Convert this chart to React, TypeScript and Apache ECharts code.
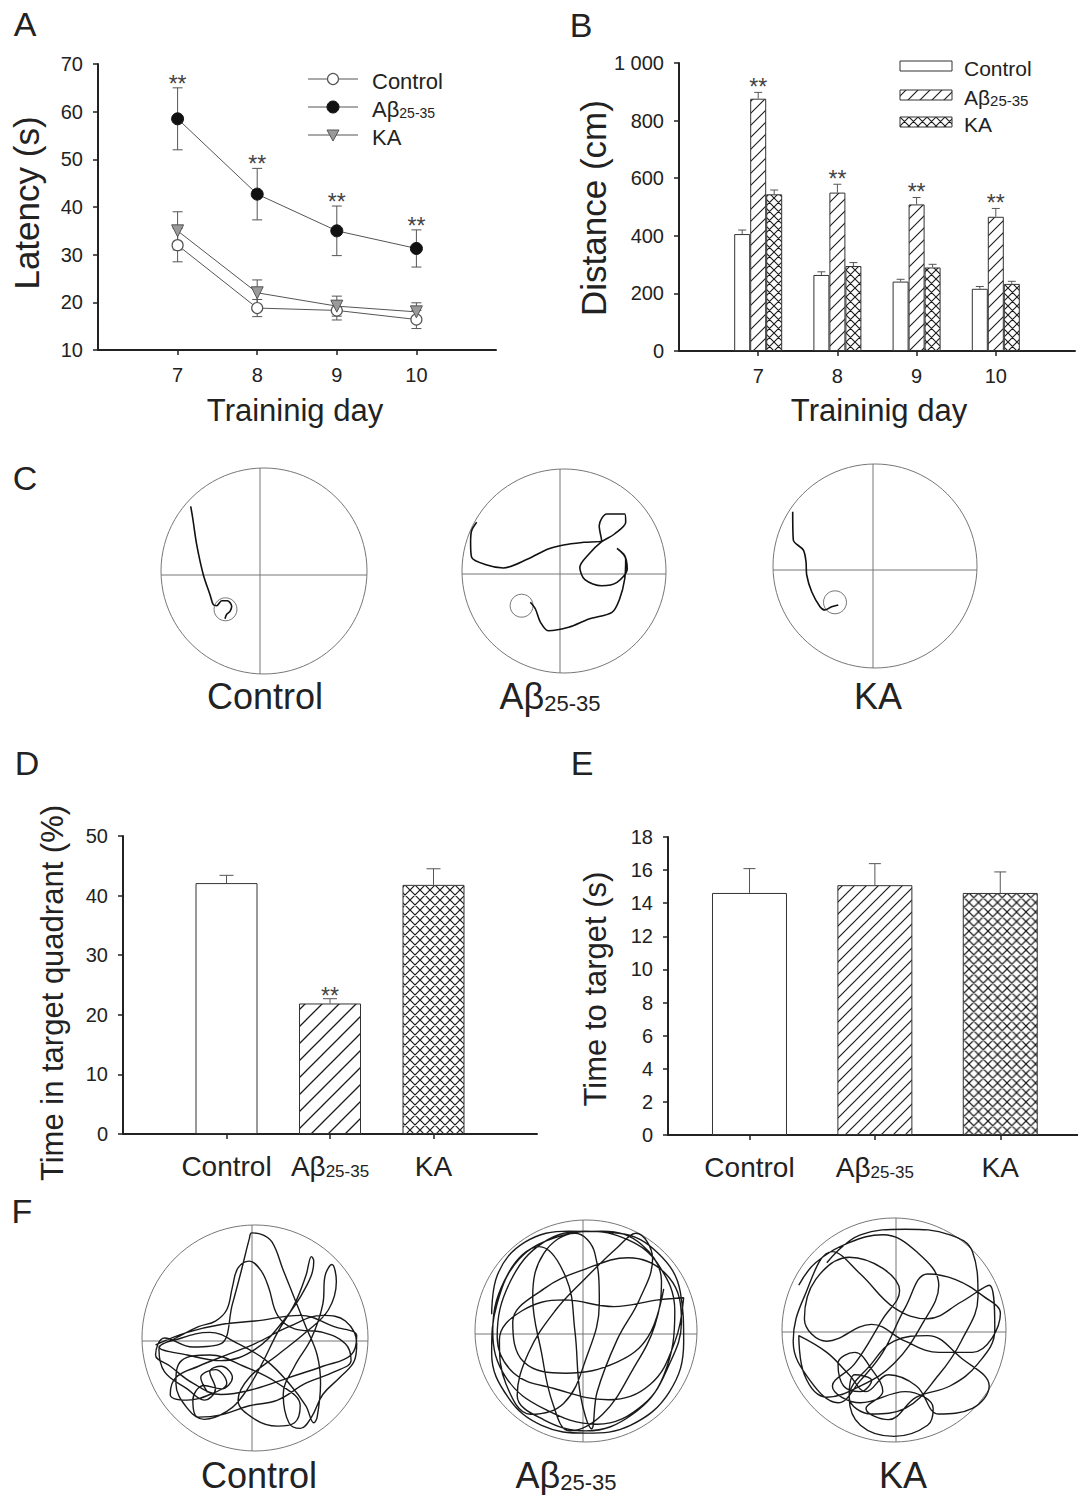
import React, { useEffect, useRef } from 'react';
import * as echarts from 'echarts';

const W = 1078;
const H = 1495;
const FONT = '"Liberation Sans", Arial, Helvetica, sans-serif';
const INK = '#222';

// ---------- Panel A : latency ----------
const dayCategories = ['', '7', '8', '9', '10', ''];
const latencyControl = [32.0, 18.8, 18.3, 16.4];
const latencyControlSem = [3.5, 1.8, 2.0, 1.9];
const latencyAbeta = [58.5, 42.7, 35.0, 31.3];
const latencyAbetaSem = [6.5, 5.4, 5.2, 3.9];
const latencyKA = [35.0, 22.0, 19.2, 18.0];
const latencyKASem = [4.0, 2.7, 2.1, 1.9];
const latencyMarks = ['**', '**', '**', '**'];

// ---------- Panel B : distance ----------
const distanceControl = [406, 264, 241, 216];
const distanceControlSem = [14, 11, 8, 8];
const distanceAbeta = [876, 550, 509, 466];
const distanceAbetaSem = [22, 29, 24, 29];
const distanceKA = [544, 295, 290, 233];
const distanceKASem = [15, 12, 11, 9];
const distanceMarks = ['**', '**', '**', '**'];

// ---------- Panels D / E ----------
const groupNames = ['Control', 'Aβ', 'KA'];
const groupSubs = ['', '25-35', ''];
const quadrantTime = [42.1, 21.9, 41.8];
const quadrantSem = [1.3, 0.8, 2.7];
const quadrantMarks = ['', '**', ''];
const groupPositions = [1, 2, 3];
const targetTime = [14.62, 15.09, 14.62];
const targetSem = [1.47, 1.3, 1.27];

// ---------- Panel C : probe-trial swim paths (px offsets from pool centre, y up) ----------
const pathCControl = [[-73.3, 64.7], [-71.3, 53], [-67.3, 26.3], [-60.7, -3.7], [-54, -23.7], [-50.7, -33.7], [-47.3, -34.7], [-42.3, -29.7], [-36.7, -29.7], [-32.3, -35.3], [-34, -40.3], [-37.3, -43.3], [-39, -47.7]];
const platformCControl = [-38.5, -38.3];
const pathCAbeta = [[-87.3, 48.7], [-92.4, 40.3], [-93.4, 28.7], [-92.4, 13.7], [-77.1, 6], [-60.7, 3], [-36.2, 12], [-15.8, 22], [-0.5, 26], [19.9, 28.7], [37.7, 30.3], [35.2, 45.3], [42.8, 57], [60.7, 57], [61.7, 48.7], [50.5, 37], [37.7, 29.3], [25, 17], [15.8, 3.7], [20.9, -8.7], [37.7, -14.7], [53, -11.3], [63.2, 2], [60.7, 15.3], [53, 22.7], [61.7, 12], [60.7, -8], [55.6, -28], [48, -41.3], [25, -48], [4.6, -56.3], [-15.8, -59.7], [-23.5, -51.3], [-28.6, -38], [-33.7, -31.3]];
const platformCAbeta = [-42.4, -34.7];
const pathCKA = [[-82.3, 54.3], [-81.7, 26], [-71.7, 16], [-69, 4.3], [-68.3, -9], [-63.3, -25.7], [-55, -40.7], [-50, -44], [-43.3, -40.7], [-36.7, -39]];
const platformCKA = [-40, -36.3];

// ---------- Panel F : spatial probe swim paths (normalised to pool radius 100) ----------
const pathFControl = [[-88, -6], [-60, 5], [-30, 12], [0, 15], [40, 20], [70, 10], [90, 2], [85, -15], [60, -25], [30, -35], [0, -45], [-30, -50], [-55, -40], [-75, -25], [-88, -15], [-80, 0], [-55, -8], [-30, -5], [-20, 30], [-12, 60], [-5, 88], [-3, 93], [5, 92], [15, 85], [25, 60], [35, 35], [45, 10], [55, -15], [58, -40], [55, -70], [52, -75], [45, -60], [30, -40], [10, -20], [-15, -5], [-40, 5], [-65, 0], [-85, -10], [-80, -30], [-60, -45], [-45, -55], [-35, -45], [-40, -30], [-30, -25], [-20, -35], [-30, -45], [-45, -42], [-55, -55], [-50, -70], [-30, -68], [-5, -60], [20, -55], [45, -40], [70, -30], [85, -20], [80, -5], [60, 5], [35, 8], [20, 20], [12, 45], [5, 60], [-5, 68], [-15, 62], [-20, 45], [-25, 25], [-35, 15], [-50, 10], [-70, 0], [-85, -8], [-60, -15], [-30, -20], [0, -10], [25, 15], [45, 45], [52, 68], [50, 72], [45, 55], [35, 30], [20, 5], [5, -25], [-10, -50], [-25, -65], [-45, -72], [-60, -62], [-70, -40], [-65, -20], [-40, -15], [-10, -25], [20, -40], [40, -60], [35, -75], [20, -78], [0, -72], [-15, -55], [-5, -35], [20, -15], [45, 5], [65, 25], [72, 50], [68, 65], [62, 55], [60, 30], [50, 0], [35, -25], [25, -50], [30, -75], [40, -80], [50, -70], [60, -50], [75, -35], [88, -20], [90, -5], [80, 15], [60, 20], [30, 10], [0, -5], [-25, -15], [-50, -25], [-70, -35], [-75, -50], [-60, -55], [-40, -50], [-25, -40], [-35, -28], [-48, -35], [-42, -48]];
const pathFAbeta = [[-85, 15], [-80, 50], [-55, 80], [-15, 90], [30, 88], [65, 70], [85, 35], [88, -10], [75, -55], [40, -85], [0, -92], [-40, -85], [-70, -60], [-85, -20], [-80, 25], [-60, 65], [-25, 85], [15, 90], [50, 78], [68, 45], [62, 5], [42, -35], [15, -75], [-15, -90], [-30, -65], [-40, -20], [-48, 30], [-38, 70], [-10, 88], [8, 70], [12, 25], [0, -25], [-20, -65], [-50, -75], [-72, -48], [-78, -8], [-58, 18], [-20, 28], [25, 22], [65, 28], [88, 30], [80, -10], [58, -48], [20, -62], [-28, -52], [-65, -38], [-80, -5], [-68, 45], [-38, 80], [0, 90], [38, 82], [65, 60], [80, 18], [70, -40], [42, -75], [0, -90], [-38, -80], [-62, -58], [-52, -20], [-28, 18], [0, 48], [28, 75], [45, 88], [60, 65], [48, 28], [28, -8], [10, -55], [5, -88], [-5, -58], [-10, 0], [-18, 48], [-42, 76], [-70, 52], [-84, 0], [-72, -42], [-38, -70], [10, -84], [52, -66], [76, -28], [86, 8], [75, 48], [38, 66], [0, 56], [-38, 38], [-66, 8], [-56, -28], [-18, -38], [28, -28], [56, -5], [70, 38]];
const pathFKA = [[-60, 60], [-30, 85], [10, 90], [50, 85], [70, 70], [75, 30], [60, -10], [40, -40], [10, -70], [-20, -75], [-40, -60], [-35, -40], [-20, -45], [-30, -55], [-45, -50], [-50, -30], [-35, -20], [-20, -35], [-10, -55], [-25, -70], [-5, -80], [20, -60], [50, -50], [75, -30], [90, 0], [85, 40], [60, 25], [30, 10], [0, 20], [-30, 50], [-55, 70], [-80, 30], [-90, -10], [-75, -45], [-50, -65], [-30, -45], [-10, -20], [10, 20], [30, 50], [55, 45], [80, 30], [95, 15], [70, -20], [40, -20], [10, -10], [-20, 5], [-60, -10], [-80, 10], [-70, 45], [-40, 65], [-10, 55], [5, 35], [-10, 10], [-35, -30], [-55, -50], [-30, -65], [10, -55], [35, -70], [30, -85], [0, -95], [-30, -85], [-40, -60], [-20, -30], [0, -10], [30, -5], [60, -25], [85, -50], [70, -70], [40, -75], [20, -50], [-5, -40], [-25, -55], [-40, -40], [-60, -20], [-85, -5], [-80, -40], [-60, -60], [-30, -50], [0, -30], [25, 5], [40, 40], [20, 70], [-10, 85], [-40, 78], [-70, 60], [-85, 40]];

// ---------- layout ----------
const POOLS_C = [
  { cx: 264, cy: 571, r: 103, vx: 260, hy: 575 },
  { cx: 564, cy: 571, r: 102, vx: 560, hy: 574 },
  { cx: 875, cy: 566, r: 102, vx: 873, hy: 570 },
];
const POOLS_F = [
  { cx: 255, cy: 1338, r: 113, vx: 252, hy: 1341 },
  { cx: 586, cy: 1331, r: 111, vx: 583, hy: 1334 },
  { cx: 894, cy: 1330, r: 112, vx: 896, hy: 1332 },
];

function tile(s: number, cross: boolean, lw: number) {
  const d1 = `M0 ${s} L${s} 0 M${-s} ${s} L${s} ${-s} M0 ${2 * s} L${2 * s} 0`;
  const d2 = `M0 0 L${s} ${s} M0 ${-s} L${2 * s} ${s} M${-s} 0 L${s} ${2 * s}`;
  const svg = `<svg xmlns='http://www.w3.org/2000/svg' width='${s}' height='${s}'><rect width='${s}' height='${s}' fill='#ffffff'/><path d='${d1}${cross ? ' ' + d2 : ''}' stroke='#1a1a1a' stroke-width='${lw}' fill='none'/></svg>`;
  return {
    image: 'data:image/svg+xml;charset=utf-8,' + encodeURIComponent(svg),
    repeat: 'repeat',
    imageWidth: s,
    imageHeight: s,
  } as any;
}

const pts = (vals: number[]) => vals.map((v, i) => [i + 1, v]);

function errSeries(ax: number, vals: number[], sems: number[], offset: number, cap: number, both: boolean) {
  return {
    type: 'custom',
    xAxisIndex: ax,
    yAxisIndex: ax,
    silent: true,
    z: 3,
    data: vals.map((v, i) => [i + 1, v, sems[i]]),
    encode: { x: 0, y: 1 },
    renderItem: (params: any, api: any) => {
      const x = api.value(0);
      const v = api.value(1);
      const e = api.value(2);
      const top = api.coord([x, v + e]);
      const bot = api.coord([x, both ? v - e : v]);
      const cx = top[0] + offset;
      const st = { stroke: '#555', lineWidth: 1 };
      const children: any[] = [
        { type: 'line', shape: { x1: cx, y1: top[1], x2: cx, y2: bot[1] }, style: st },
        { type: 'line', shape: { x1: cx - cap, y1: top[1], x2: cx + cap, y2: top[1] }, style: st },
      ];
      if (both) children.push({ type: 'line', shape: { x1: cx - cap, y1: bot[1], x2: cx + cap, y2: bot[1] }, style: st });
      return { type: 'group', children };
    },
  };
}

function sigSeries(ax: number, vals: number[], sems: number[], marks: string[], gap: number) {
  return {
    type: 'custom',
    xAxisIndex: ax,
    yAxisIndex: ax,
    silent: true,
    z: 5,
    data: vals.map((v, i) => [i + 1, v + sems[i], i]),
    encode: { x: 0, y: 1 },
    renderItem: (params: any, api: any) => {
      const p = api.coord([api.value(0), api.value(1)]);
      const mark = marks[api.value(2)];
      if (!mark) return null;
      return {
        type: 'text',
        x: p[0],
        y: p[1] - gap,
        style: {
          text: mark, fontSize: 23, fontFamily: FONT, fill: '#444',
          align: 'center', verticalAlign: 'middle', textAlign: 'center', textVerticalAlign: 'middle',
        },
      };
    },
  };
}

const richLabel = (i: number) => (groupSubs[i] ? `{m|${groupNames[i]}}{s|${groupSubs[i]}}` : `{m|${groupNames[i]}}`);

function txt(x: number, y: number, text: string, size: number, extra: any = {}, rot = 0, align = 'center') {
  return {
    type: 'text', x, y, rotation: rot, silent: true,
    style: {
      text, fontSize: size, fontFamily: FONT, fill: INK,
      align, verticalAlign: 'middle', textAlign: align, textVerticalAlign: 'middle', ...extra,
    },
  };
}

function buildOption() {
  const hatchB = tile(12, false, 1.1);
  const crossB = tile(9, true, 1.1);
  const hatchD = tile(17, false, 1.3);
  const crossD = tile(10, true, 1.2);
  const hatchE = tile(12, false, 1.2);
  const crossE = tile(9.5, true, 1.2);

  const axisLine = { show: true, lineStyle: { color: INK, width: 2 } };
  const tickOut = { show: true, inside: false, length: 5, lineStyle: { color: INK, width: 1.5 } };
  const yLabel = { fontSize: 20, color: INK, fontFamily: FONT, margin: 15 };

  const pools = [...POOLS_C, ...POOLS_F];
  const grid: any[] = [
    { left: 98, top: 64, width: 398, height: 286 },
    { left: 679, top: 63, width: 400, height: 288 },
    { left: 123, top: 836, width: 414, height: 298 },
    { left: 668, top: 837, width: 410, height: 298 },
    ...pools.map((p) => ({ left: p.cx - p.r, top: p.cy - p.r, width: 2 * p.r, height: 2 * p.r })),
  ];

  const groupRich = {
    m: { fontSize: 28, fontFamily: FONT, color: INK, lineHeight: 32, verticalAlign: 'bottom' },
    s: { fontSize: 17, fontFamily: FONT, color: INK, lineHeight: 20, verticalAlign: 'bottom' },
  };

  const xAxis: any[] = [
    {
      gridIndex: 0, type: 'category', data: dayCategories, boundaryGap: false,
      axisLine, axisTick: { ...tickOut, interval: (i: number) => i > 0 && i < 5 },
      axisLabel: { fontSize: 20, color: INK, fontFamily: FONT, margin: 15, interval: 0 },
    },
    {
      gridIndex: 1, type: 'category', data: dayCategories, boundaryGap: false,
      axisLine, axisTick: { ...tickOut, interval: (i: number) => i > 0 && i < 5 },
      axisLabel: { fontSize: 20, color: INK, fontFamily: FONT, margin: 15, interval: 0 },
    },
    {
      gridIndex: 2, type: 'category', data: ['', ...groupNames, ''], boundaryGap: false,
      axisLine, axisTick: { ...tickOut, interval: (i: number) => i > 0 && i < 4 },
      axisLabel: {
        interval: 0, margin: 14,
        formatter: (v: string) => { const i = groupNames.indexOf(v); return i < 0 ? '' : richLabel(i); },
        rich: groupRich,
      },
    },
    {
      gridIndex: 3, type: 'value', min: 0.35, max: 3.62,
      axisLine, splitLine: { show: false },
      axisTick: { ...tickOut, customValues: groupPositions },
      axisLabel: {
        margin: 14, customValues: groupPositions,
        formatter: (v: number) => { const i = Math.round(v) - 1; return groupNames[i] ? richLabel(i) : ''; },
        rich: groupRich,
      },
    },
    ...pools.map((p, k) => {
      const half = k < 3 ? p.r : 100;
      return { gridIndex: 4 + k, type: 'value', min: -half, max: half, show: false };
    }),
  ];

  const yAxis: any[] = [
    { gridIndex: 0, type: 'value', min: 10, max: 70, interval: 10, axisLine, axisTick: tickOut, splitLine: { show: false }, axisLabel: yLabel },
    {
      gridIndex: 1, type: 'value', min: 0, max: 1000, interval: 200, axisLine, axisTick: tickOut, splitLine: { show: false },
      axisLabel: { ...yLabel, formatter: (v: number) => (v === 1000 ? '1 000' : String(v)) },
    },
    { gridIndex: 2, type: 'value', min: 0, max: 50, interval: 10, axisLine, axisTick: tickOut, splitLine: { show: false }, axisLabel: yLabel },
    { gridIndex: 3, type: 'value', min: 0, max: 18, interval: 2, axisLine, axisTick: tickOut, splitLine: { show: false }, axisLabel: yLabel },
    ...pools.map((p, k) => {
      const half = k < 3 ? p.r : 100;
      return { gridIndex: 4 + k, type: 'value', min: -half, max: half, show: false };
    }),
  ];

  const barBorder = { borderColor: '#333', borderWidth: 1 };
  const series: any[] = [
    // A
    errSeries(0, latencyControl, latencyControlSem, 0, 5, true),
    errSeries(0, latencyKA, latencyKASem, 0, 5, true),
    errSeries(0, latencyAbeta, latencyAbetaSem, 0, 5, true),
    {
      type: 'line', xAxisIndex: 0, yAxisIndex: 0, data: pts(latencyControl), silent: true, z: 4,
      symbol: 'circle', symbolSize: 11, lineStyle: { color: '#555', width: 1 },
      itemStyle: { color: '#fff', borderColor: '#555', borderWidth: 1.2 },
    },
    {
      type: 'line', xAxisIndex: 0, yAxisIndex: 0, data: pts(latencyKA), silent: true, z: 4,
      symbol: 'triangle', symbolRotate: 180, symbolSize: 12, lineStyle: { color: '#555', width: 1 },
      itemStyle: { color: '#9a9a9a', borderColor: '#555', borderWidth: 1 },
    },
    {
      type: 'line', xAxisIndex: 0, yAxisIndex: 0, data: pts(latencyAbeta), silent: true, z: 4,
      symbol: 'circle', symbolSize: 12, lineStyle: { color: '#555', width: 1 },
      itemStyle: { color: '#111', borderColor: '#111', borderWidth: 1 },
    },
    sigSeries(0, latencyAbeta, latencyAbetaSem, latencyMarks, 4),
    // B
    { type: 'bar', xAxisIndex: 1, yAxisIndex: 1, data: pts(distanceControl), barWidth: 16, barGap: '0%', silent: true, itemStyle: { color: '#fff', ...barBorder } },
    { type: 'bar', xAxisIndex: 1, yAxisIndex: 1, data: pts(distanceAbeta), barWidth: 16, barGap: '0%', silent: true, itemStyle: { color: hatchB, ...barBorder } },
    { type: 'bar', xAxisIndex: 1, yAxisIndex: 1, data: pts(distanceKA), barWidth: 16, barGap: '0%', silent: true, itemStyle: { color: crossB, ...barBorder } },
    errSeries(1, distanceControl, distanceControlSem, -16, 4, false),
    errSeries(1, distanceAbeta, distanceAbetaSem, 0, 4, false),
    errSeries(1, distanceKA, distanceKASem, 16, 4, false),
    sigSeries(1, distanceAbeta, distanceAbetaSem, distanceMarks, 5),
    // D
    {
      type: 'bar', xAxisIndex: 2, yAxisIndex: 2, barWidth: 62, silent: true,
      data: quadrantTime.map((v, i) => ({ value: [i + 1, v], itemStyle: { color: ['#fff', hatchD, crossD][i], ...barBorder } })),
    },
    errSeries(2, quadrantTime, quadrantSem, 0, 7, false),
    sigSeries(2, quadrantTime, quadrantSem, quadrantMarks, 3),
    // E
    {
      type: 'bar', xAxisIndex: 3, yAxisIndex: 3, barWidth: 75, silent: true,
      data: targetTime.map((v, i) => ({ value: [groupPositions[i], v], itemStyle: { color: ['#fff', hatchE, crossE][i], ...barBorder } })),
    },
    errSeries(3, targetTime, targetSem, 0, 6, false),
  ];

  const cPaths = [pathCControl, pathCAbeta, pathCKA];
  const cPlatforms = [platformCControl, platformCAbeta, platformCKA];
  cPaths.forEach((path, k) => {
    series.push({
      type: 'line', xAxisIndex: 4 + k, yAxisIndex: 4 + k, data: path, silent: true, z: 4,
      symbol: 'none', smooth: 0.3, lineStyle: { color: '#111', width: 1.6 },
    });
    series.push({
      type: 'scatter', xAxisIndex: 4 + k, yAxisIndex: 4 + k, data: [cPlatforms[k]], silent: true, z: 3,
      symbol: 'circle', symbolSize: 23, itemStyle: { color: 'rgba(0,0,0,0)', borderColor: '#555', borderWidth: 1 },
    });
  });
  [pathFControl, pathFAbeta, pathFKA].forEach((path, k) => {
    series.push({
      type: 'line', xAxisIndex: 7 + k, yAxisIndex: 7 + k, data: path, silent: true, z: 4,
      symbol: 'none', smooth: 0.4, lineStyle: { color: '#1a1a1a', width: 1.4 },
    });
  });

  const graphic: any[] = [];
  // panel letters
  [['A', 25, 24], ['B', 581, 25], ['C', 25, 478], ['D', 27, 763], ['E', 582, 763], ['F', 22, 1211]].forEach(([l, x, y]) => {
    graphic.push(txt(x as number, y as number, l as string, 34));
  });
  // axis titles
  graphic.push(txt(26, 203, 'Latency (s)', 35, {}, Math.PI / 2));
  graphic.push(txt(295, 410, 'Traininig day', 31));
  graphic.push(txt(593, 208, 'Distance (cm)', 35, {}, Math.PI / 2));
  graphic.push(txt(879, 410, 'Traininig day', 31));
  graphic.push(txt(52, 993, 'Time in target quadrant (%)', 31, {}, Math.PI / 2));
  graphic.push(txt(595, 989, 'Time to target (s)', 31, {}, Math.PI / 2));

  // legend A
  const legRichA = {
    m: { fontSize: 22, fontFamily: FONT, fill: INK, lineHeight: 26, verticalAlign: 'bottom' },
    s: { fontSize: 14, fontFamily: FONT, fill: INK, lineHeight: 17, verticalAlign: 'bottom' },
  };
  const legA = [79, 107, 135];
  legA.forEach((y, i) => {
    graphic.push({ type: 'line', silent: true, shape: { x1: 308, y1: y, x2: 358, y2: y }, style: { stroke: '#555', lineWidth: 1 } });
    graphic.push(txt(372, y, richLabel(i), 22, { rich: legRichA }, 0, 'left'));
  });
  graphic.push({ type: 'circle', silent: true, shape: { cx: 333, cy: legA[0], r: 5.5 }, style: { fill: '#fff', stroke: '#555', lineWidth: 1.2 } });
  graphic.push({ type: 'circle', silent: true, shape: { cx: 333, cy: legA[1], r: 6 }, style: { fill: '#111', stroke: '#111', lineWidth: 1 } });
  graphic.push({ type: 'polygon', silent: true, shape: { points: [[327, legA[2] - 5], [339, legA[2] - 5], [333, legA[2] + 6]] }, style: { fill: '#9a9a9a', stroke: '#555', lineWidth: 1 } });

  // legend B
  const legRichB = {
    m: { fontSize: 21, fontFamily: FONT, fill: INK, lineHeight: 25, verticalAlign: 'bottom' },
    s: { fontSize: 15, fontFamily: FONT, fill: INK, lineHeight: 18, verticalAlign: 'bottom' },
  };
  const legB = [66, 95, 122];
  const legFills = ['#fff', hatchB, crossB];
  legB.forEach((y, i) => {
    graphic.push({ type: 'rect', silent: true, shape: { x: 900, y: y - 5, width: 52, height: 10 }, style: { fill: legFills[i], stroke: '#333', lineWidth: 1 } });
    graphic.push(txt(964, y, richLabel(i), 21, { rich: legRichB }, 0, 'left'));
  });

  // pools: outline + quadrant lines
  pools.forEach((p) => {
    graphic.push({ type: 'circle', silent: true, z: 0, shape: { cx: p.cx, cy: p.cy, r: p.r }, style: { fill: 'none', stroke: '#777', lineWidth: 1 } });
    const dyv = Math.sqrt(Math.max(0, p.r * p.r - (p.vx - p.cx) ** 2));
    const dxh = Math.sqrt(Math.max(0, p.r * p.r - (p.hy - p.cy) ** 2));
    graphic.push({ type: 'line', silent: true, z: 0, shape: { x1: p.vx, y1: p.cy - dyv, x2: p.vx, y2: p.cy + dyv }, style: { stroke: '#777', lineWidth: 1 } });
    graphic.push({ type: 'line', silent: true, z: 0, shape: { x1: p.cx - dxh, y1: p.hy, x2: p.cx + dxh, y2: p.hy }, style: { stroke: '#777', lineWidth: 1 } });
  });
  // pool captions
  const poolRich = {
    m: { fontSize: 36, fontFamily: FONT, fill: INK, lineHeight: 40, verticalAlign: 'bottom' },
    s: { fontSize: 22, fontFamily: FONT, fill: INK, lineHeight: 25, verticalAlign: 'bottom' },
  };
  const capC = [265, 550, 878];
  const capF = [259, 566, 903];
  capC.forEach((x, i) => graphic.push(txt(x, 694, richLabel(i), 36, { rich: poolRich })));
  capF.forEach((x, i) => graphic.push(txt(x, 1473, richLabel(i), 36, { rich: poolRich })));

  return {
    animation: false,
    backgroundColor: '#fff',
    textStyle: { fontFamily: FONT },
    grid,
    xAxis,
    yAxis,
    series,
    graphic: { elements: graphic },
  };
}

export default function App() {
  const ref = useRef<HTMLDivElement>(null);
  useEffect(() => {
    if (!ref.current) return;
    const chart = echarts.init(ref.current, null, { renderer: 'svg', width: W, height: H });
    chart.setOption(buildOption() as any);
    return () => chart.dispose();
  }, []);
  return <div ref={ref} style={{ position: 'absolute', left: 0, top: 0, width: W, height: H, background: '#fff' }} />;
}
